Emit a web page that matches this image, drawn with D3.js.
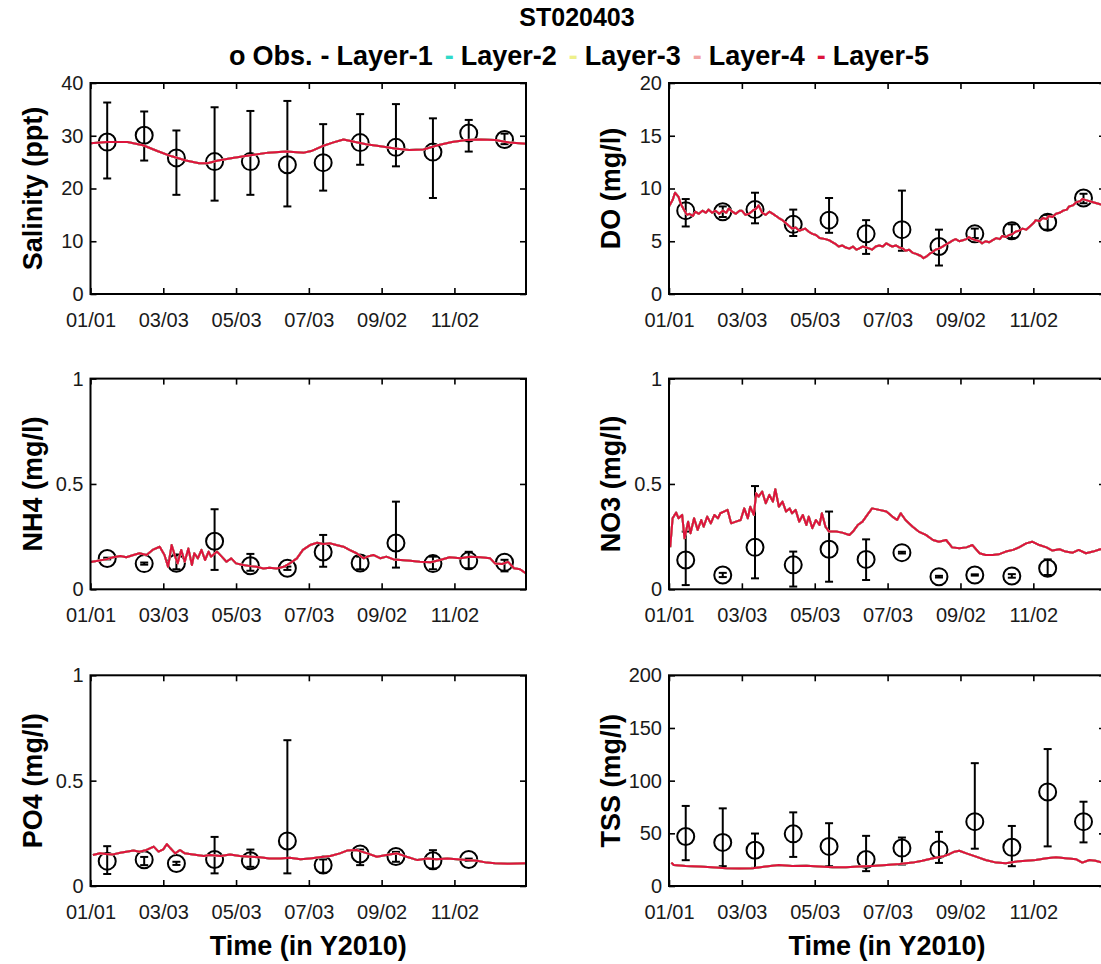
<!DOCTYPE html>
<html>
<head>
<meta charset="utf-8">
<script src="https://cdn.jsdelivr.net/npm/d3@7"></script>
<style>
  html, body { margin: 0; padding: 0; background: #ffffff; }
  svg { display: block; }
</style>
</head>
<body>
<svg id="fig" width="1101" height="964"></svg>
<script>
// ---- Station and legend -------------------------------------------------
const stationName = "ST020403";
const layerNames = ["Layer-1", "Layer-2", "Layer-3", "Layer-4", "Layer-5"];
const layerColors = ["#000000", "#2fd9c9", "#eef08a", "#f2a3a3", "#dc143c"];

// ---- Time axis ----------------------------------------------------------
const tickDates = ["2010-01-01", "2010-03-03", "2010-05-03", "2010-07-03", "2010-09-02", "2010-11-02"];
const obsDates = ["2010-01-15", "2010-02-15", "2010-03-14", "2010-04-15", "2010-05-15", "2010-06-15",
                  "2010-07-15", "2010-08-15", "2010-09-14", "2010-10-15", "2010-11-14", "2010-12-14"];

// ---- Observations (mean, upper, lower) ----------------------------------
const salObs = [28.8, 30.1, 25.8, 25.1, 25.1, 24.5, 24.9, 28.7, 27.8, 26.9, 30.5, 29.3];
const salHi  = [36.3, 34.6, 31.0, 35.4, 34.7, 36.6, 32.2, 34.1, 36.0, 33.3, 33.0, 30.4];
const salLo  = [21.9, 25.3, 18.8, 17.7, 18.8, 16.6, 19.6, 24.5, 24.2, 18.2, 27.0, 28.4];

const doObs = [7.9, 7.8, 8.0, 6.6, 7.0, 5.7, 6.1, 4.5, 5.7, 6.0, 6.8, 9.1];
const doHi  = [9.0, 8.3, 9.6, 8.0, 9.1, 7.0, 9.8, 6.1, 6.2, 6.6, 7.5, 9.5];
const doLo  = [6.4, 7.3, 6.7, 5.5, 5.8, 3.8, 4.1, 2.7, 5.3, 5.3, 6.1, 8.6];

const nh4Obs = [0.146, 0.122, 0.124, 0.228, 0.112, 0.100, 0.177, 0.125, 0.220, 0.122, 0.135, 0.128];
const nh4Hi  = [0.150, 0.127, 0.165, 0.380, 0.168, 0.108, 0.258, 0.155, 0.416, 0.155, 0.178, 0.140];
const nh4Lo  = [0.142, 0.117, 0.095, 0.092, 0.088, 0.092, 0.107, 0.095, 0.103, 0.095, 0.100, 0.085];

const no3Obs = [0.139, 0.068, 0.199, 0.116, 0.190, 0.142, 0.174, 0.060, 0.068, 0.063, 0.100];
const no3Hi  = [0.274, 0.078, 0.490, 0.179, 0.369, 0.237, 0.178, 0.064, 0.071, 0.072, 0.142];
const no3Lo  = [0.020, 0.058, 0.052, 0.013, 0.036, 0.044, 0.170, 0.056, 0.065, 0.055, 0.068];

const po4Obs = [0.118, 0.125, 0.107, 0.126, 0.120, 0.214, 0.100, 0.152, 0.140, 0.120, 0.126];
const po4Hi  = [0.189, 0.138, 0.115, 0.233, 0.173, 0.692, 0.126, 0.173, 0.162, 0.170, 0.130];
const po4Lo  = [0.057, 0.099, 0.100, 0.060, 0.091, 0.060, 0.063, 0.099, 0.115, 0.083, 0.120];

const tssObs = [47.0, 41.4, 33.9, 49.5, 37.6, 25.1, 36.0, 34.5, 61.1, 36.7, 89.3, 61.1];
const tssHi  = [76.0, 73.7, 49.8, 69.9, 59.6, 47.6, 46.0, 51.4, 116.6, 57.0, 130.0, 80.0];
const tssLo  = [24.5, 18.8, 17.2, 27.6, 18.8, 14.1, 20.4, 21.9, 35.4, 18.8, 37.6, 41.4];

// ---- Model output: [day of year, value] ---------------------------------
const salModel = [[0,28.6],[14,28.8],[31,28.8],[44,28.2],[56,27.1],[68,26.1],[80,25.3],[91,24.8],
  [98,24.8],[107,25.3],[119,25.8],[134,26.3],[149,26.8],[164,27.0],[179,26.8],[185,27.1],[194,28.0],
  [203,28.7],[212,29.3],[222,28.8],[231,28.4],[243,28.0],[255,27.6],[267,27.3],[279,27.4],[291,28.2],
  [303,28.8],[315,29.2],[327,29.3],[339,29.2],[351,28.7],[365,28.5]];

const doModel = [[0,8.3],[3,8.9],[5,9.6],[8,9.2],[10,8.5],[13,7.9],[15,7.5],[17,7.6],[20,7.4],[22,7.8],
  [25,7.6],[28,7.9],[31,7.7],[33,8.0],[36,7.7],[39,7.9],[42,7.6],[45,7.9],[48,7.7],[50,8.1],[53,7.8],
  [56,7.6],[59,7.9],[61,7.9],[64,7.5],[67,7.6],[70,7.9],[73,8.1],[75,8.4],[78,7.7],[81,7.5],[84,7.8],
  [87,7.6],[92,7.2],[95,7.0],[98,6.7],[100,6.5],[103,6.2],[106,6.3],[109,6.0],[114,6.2],[117,5.9],
  [120,5.7],[123,5.6],[126,5.3],[131,5.2],[134,5.1],[137,4.9],[140,4.7],[142,4.5],[145,4.6],[148,4.4],
  [151,4.3],[154,4.5],[157,4.2],[159,4.3],[162,4.5],[165,4.4],[168,4.3],[170,4.2],[173,4.5],[176,4.6],
  [179,4.5],[182,4.8],[185,4.6],[187,4.5],[190,4.6],[193,4.4],[196,4.3],[198,4.1],[201,4.2],[204,3.9],
  [207,3.8],[209,3.7],[211,3.6],[213,3.4],[216,3.6],[218,3.8],[221,4.0],[223,4.2],[226,4.3],[229,4.5],
  [232,4.7],[235,4.9],[238,5.1],[240,5.2],[243,5.0],[246,5.1],[249,5.2],[251,5.4],[254,5.2],[257,5.1],
  [260,5.0],[262,4.8],[265,5.0],[268,4.9],[271,5.1],[274,5.3],[277,5.2],[279,5.5],[282,5.4],[285,5.6],
  [288,5.7],[290,5.9],[293,6.0],[296,6.2],[299,6.1],[302,6.4],[305,6.7],[307,7.0],[310,6.9],[313,7.2],
  [316,7.1],[318,7.4],[321,7.3],[324,7.6],[327,7.7],[330,7.9],[333,8.0],[335,8.3],[338,8.4],[341,8.7],
  [344,8.8],[346,9.0],[349,8.9],[352,8.8],[355,8.7],[358,8.6],[361,8.5],[365,8.4]];

const nh4Model = [[0,0.130],[5,0.134],[13,0.142],[19,0.152],[25,0.158],[30,0.152],[36,0.163],[41,0.171],
  [47,0.163],[52,0.187],[58,0.202],[62,0.163],[65,0.107],[68,0.210],[71,0.155],[73,0.123],[76,0.187],
  [79,0.131],[82,0.194],[85,0.115],[87,0.171],[90,0.147],[93,0.187],[96,0.139],[99,0.179],[101,0.155],
  [106,0.179],[110,0.155],[114,0.131],[118,0.147],[122,0.123],[128,0.115],[134,0.110],[139,0.107],
  [145,0.099],[150,0.102],[156,0.099],[162,0.107],[167,0.123],[173,0.147],[178,0.187],[184,0.210],
  [190,0.221],[195,0.215],[201,0.218],[206,0.210],[212,0.202],[217,0.187],[223,0.171],[229,0.147],
  [232,0.155],[237,0.163],[243,0.147],[248,0.155],[254,0.142],[260,0.139],[268,0.136],[276,0.131],
  [285,0.128],[293,0.139],[301,0.152],[310,0.147],[318,0.155],[327,0.152],[335,0.147],[339,0.123],
  [345,0.120],[350,0.130],[355,0.100],[360,0.095],[365,0.075]];

const no3Model = [[1,0.200],[3,0.337],[6,0.364],[8,0.337],[11,0.353],[13,0.242],[16,0.321],[18,0.266],
  [21,0.337],[24,0.282],[27,0.329],[29,0.297],[32,0.345],[35,0.313],[38,0.353],[41,0.337],[43,0.361],
  [46,0.369],[49,0.377],[52,0.313],[56,0.321],[60,0.329],[63,0.384],[66,0.337],[68,0.392],[71,0.353],
  [73,0.456],[75,0.440],[78,0.464],[81,0.408],[84,0.448],[87,0.416],[89,0.475],[92,0.392],[95,0.416],
  [98,0.369],[101,0.384],[103,0.361],[106,0.377],[109,0.321],[112,0.353],[115,0.305],[117,0.345],
  [120,0.290],[123,0.329],[126,0.305],[128,0.361],[131,0.297],[134,0.274],[140,0.274],[145,0.269],
  [151,0.258],[154,0.274],[158,0.305],[162,0.321],[166,0.353],[170,0.384],[176,0.377],[182,0.369],
  [187,0.345],[191,0.329],[194,0.361],[198,0.329],[204,0.297],[209,0.274],[215,0.258],[221,0.234],
  [226,0.226],[232,0.234],[237,0.199],[243,0.195],[249,0.199],[254,0.210],[260,0.171],[265,0.163],
  [271,0.163],[276,0.166],[282,0.179],[288,0.187],[293,0.199],[299,0.218],[304,0.226],[310,0.210],
  [316,0.199],[321,0.184],[327,0.190],[332,0.179],[338,0.174],[343,0.187],[349,0.171],[355,0.179],
  [361,0.190],[365,0.190]];

const po4Model = [[2,0.147],[8,0.155],[13,0.152],[19,0.150],[25,0.158],[30,0.163],[36,0.168],[41,0.163],
  [47,0.171],[53,0.187],[57,0.163],[61,0.174],[64,0.199],[67,0.179],[71,0.155],[75,0.171],[79,0.155],
  [83,0.152],[89,0.147],[95,0.142],[100,0.147],[109,0.142],[117,0.150],[125,0.142],[134,0.139],
  [142,0.136],[150,0.131],[159,0.131],[167,0.134],[176,0.127],[184,0.131],[192,0.136],[201,0.142],
  [209,0.155],[215,0.168],[223,0.171],[232,0.155],[240,0.139],[248,0.147],[257,0.155],[265,0.139],
  [274,0.123],[282,0.131],[290,0.127],[299,0.131],[307,0.127],[315,0.123],[324,0.120],[332,0.111],
  [339,0.108],[350,0.106],[365,0.108]];

const tssModel = [[2,22.2],[4,19.9],[14,19.0],[25,18.4],[36,17.7],[48,16.8],[59,16.5],[70,16.8],[81,18.4],
  [92,19.9],[103,19.0],[115,19.3],[126,18.4],[137,17.7],[148,17.7],[159,18.4],[170,19.0],[182,19.9],
  [193,20.9],[204,22.2],[212,24.0],[221,26.3],[229,27.9],[235,30.4],[239,32.6],[243,33.5],[249,31.0],
  [257,27.9],[265,24.7],[274,22.2],[282,21.5],[290,23.1],[299,24.0],[307,24.7],[316,26.3],[324,27.2],
  [332,26.3],[341,25.3],[346,22.2],[352,24.7],[357,24.0],[365,21.5]];

// ---- Panel definitions ----------------------------------------------------
const panels = [
  { label: "Salinity (ppt)", col: 0, row: 0, yMax: 40,  yTicks: [0, 10, 20, 30, 40],     obs: salObs, hi: salHi, lo: salLo, model: salModel },
  { label: "DO (mg/l)",      col: 1, row: 0, yMax: 20,  yTicks: [0, 5, 10, 15, 20],      obs: doObs,  hi: doHi,  lo: doLo,  model: doModel },
  { label: "NH4 (mg/l)",     col: 0, row: 1, yMax: 1,   yTicks: [0, 0.5, 1],             obs: nh4Obs, hi: nh4Hi, lo: nh4Lo, model: nh4Model },
  { label: "NO3 (mg/l)",     col: 1, row: 1, yMax: 1,   yTicks: [0, 0.5, 1],             obs: no3Obs, hi: no3Hi, lo: no3Lo, model: no3Model },
  { label: "PO4 (mg/l)",     col: 0, row: 2, yMax: 1,   yTicks: [0, 0.5, 1],             obs: po4Obs, hi: po4Hi, lo: po4Lo, model: po4Model },
  { label: "TSS (mg/l)",     col: 1, row: 2, yMax: 200, yTicks: [0, 50, 100, 150, 200], obs: tssObs, hi: tssHi, lo: tssLo, model: tssModel }
];

// ---- Layout ---------------------------------------------------------------
const FONT = "'Liberation Sans', Arial, Helvetica, sans-serif";
const cols = [{ x0: 90.5, x1: 526 }, { x0: 669, x1: 1105 }];
const rows = [{ y0: 83, y1: 294 }, { y0: 378.6, y1: 589.3 }, { y0: 675.3, y1: 886 }];
const TICK = 6;

const parseDay = d3.timeParse("%Y-%m-%d");
const yearStart = parseDay("2010-01-01");
const yearEnd = parseDay("2011-01-01");
const dayDate = d => d3.timeDay.offset(yearStart, d);
const fmt = d3.timeFormat("%m/%d");

const svg = d3.select("#fig");
svg.append("rect").attr("width", 1101).attr("height", 964).attr("fill", "#ffffff");

// ---- Title and legend -----------------------------------------------------
svg.append("text")
  .attr("x", 577).attr("y", 26)
  .attr("text-anchor", "middle")
  .style("font-family", FONT).style("font-weight", "bold").style("font-size", "25px")
  .text(stationName);

const legendItems = [{ t: "o", c: "#000000", gap: 7 }, { t: "Obs.", c: "#000000", gap: 8 }];
layerNames.forEach((n, i) => {
  legendItems.push({ t: "-", c: layerColors[i], gap: 7 });
  legendItems.push({ t: n, c: "#000000", gap: 12 });
});
const legend = svg.append("g");
const legendTexts = legend.selectAll("text").data(legendItems).join("text")
  .attr("y", 65)
  .style("font-family", FONT).style("font-weight", "bold").style("font-size", "27px")
  .attr("fill", d => d.c)
  .text(d => d.t);
let cursor = 0;
legendTexts.each(function (d, i) {
  d.x = cursor;
  cursor += this.getComputedTextLength() + (i < legendItems.length - 1 ? d.gap : 0);
});
const legendStart = 579 - cursor / 2;
legendTexts.attr("x", d => legendStart + d.x);

// ---- Panels ---------------------------------------------------------------
panels.forEach(p => {
  const { x0, x1 } = cols[p.col];
  const { y0, y1 } = rows[p.row];
  const x = d3.scaleTime().domain([yearStart, yearEnd]).range([x0, x1]);
  const y = d3.scaleLinear().domain([0, p.yMax]).range([y1, y0]);
  const g = svg.append("g");
  const ticks = tickDates.map(parseDay);

  // error bars and observation circles
  const obs = p.obs.map((v, i) => ({ date: parseDay(obsDates[i]), v, hi: p.hi[i], lo: p.lo[i] }));
  const og = g.append("g").attr("stroke", "#000").attr("stroke-width", 2).attr("fill", "none");
  og.selectAll("line.bar").data(obs).join("line").attr("class", "bar")
    .attr("x1", d => x(d.date)).attr("x2", d => x(d.date))
    .attr("y1", d => y(d.hi)).attr("y2", d => y(d.lo));
  og.selectAll("line.capHi").data(obs).join("line").attr("class", "capHi")
    .attr("x1", d => x(d.date) - 4).attr("x2", d => x(d.date) + 4)
    .attr("y1", d => y(d.hi)).attr("y2", d => y(d.hi));
  og.selectAll("line.capLo").data(obs).join("line").attr("class", "capLo")
    .attr("x1", d => x(d.date) - 4).attr("x2", d => x(d.date) + 4)
    .attr("y1", d => y(d.lo)).attr("y2", d => y(d.lo));
  og.selectAll("circle").data(obs).join("circle")
    .attr("cx", d => x(d.date)).attr("cy", d => y(d.v)).attr("r", 8.5);

  // model layers (Layer-5 drawn last, on top)
  const line = d3.line().x(d => x(dayDate(d[0]))).y(d => y(d[1]));
  layerColors.forEach(c => {
    g.append("path").datum(p.model)
      .attr("fill", "none").attr("stroke", c).attr("stroke-width", 2)
      .attr("stroke-linejoin", "round")
      .attr("d", line);
  });

  // axes: inward ticks on all four sides
  const bottom = g.append("g").attr("transform", `translate(0,${y1})`)
    .call(d3.axisBottom(x).tickValues(ticks).tickFormat(fmt).tickSize(-TICK).tickPadding(19));
  const top = g.append("g").attr("transform", `translate(0,${y0})`)
    .call(d3.axisTop(x).tickValues(ticks).tickFormat("").tickSize(-TICK));
  const left = g.append("g").attr("transform", `translate(${x0},0)`)
    .call(d3.axisLeft(y).tickValues(p.yTicks).tickFormat(d3.format("~g")).tickSize(-TICK).tickPadding(7));
  const right = g.append("g").attr("transform", `translate(${x1},0)`)
    .call(d3.axisRight(y).tickValues(p.yTicks).tickFormat("").tickSize(-TICK));
  [bottom, top, left, right].forEach(a => {
    a.select(".domain").remove();
    a.selectAll(".tick line").attr("stroke", "#000").attr("stroke-width", 1.6);
    a.selectAll("text").style("font-family", FONT).style("font-size", "20px").attr("fill", "#1a1a1a");
  });
  g.append("rect")
    .attr("x", x0).attr("y", y0).attr("width", x1 - x0).attr("height", y1 - y0)
    .attr("fill", "none").attr("stroke", "#000").attr("stroke-width", 2);

  // axis titles
  g.append("text")
    .attr("transform", `translate(${x0 - 49},${(y0 + y1) / 2}) rotate(-90)`)
    .attr("text-anchor", "middle")
    .style("font-family", FONT).style("font-weight", "bold").style("font-size", "27px")
    .text(p.label);
  if (p.row === 2) {
    g.append("text")
      .attr("x", (x0 + x1) / 2)
      .attr("y", 955)
      .attr("text-anchor", "middle")
      .style("font-family", FONT).style("font-weight", "bold").style("font-size", "27px")
      .text("Time (in Y2010)");
  }
});
</script>
</body>
</html>
